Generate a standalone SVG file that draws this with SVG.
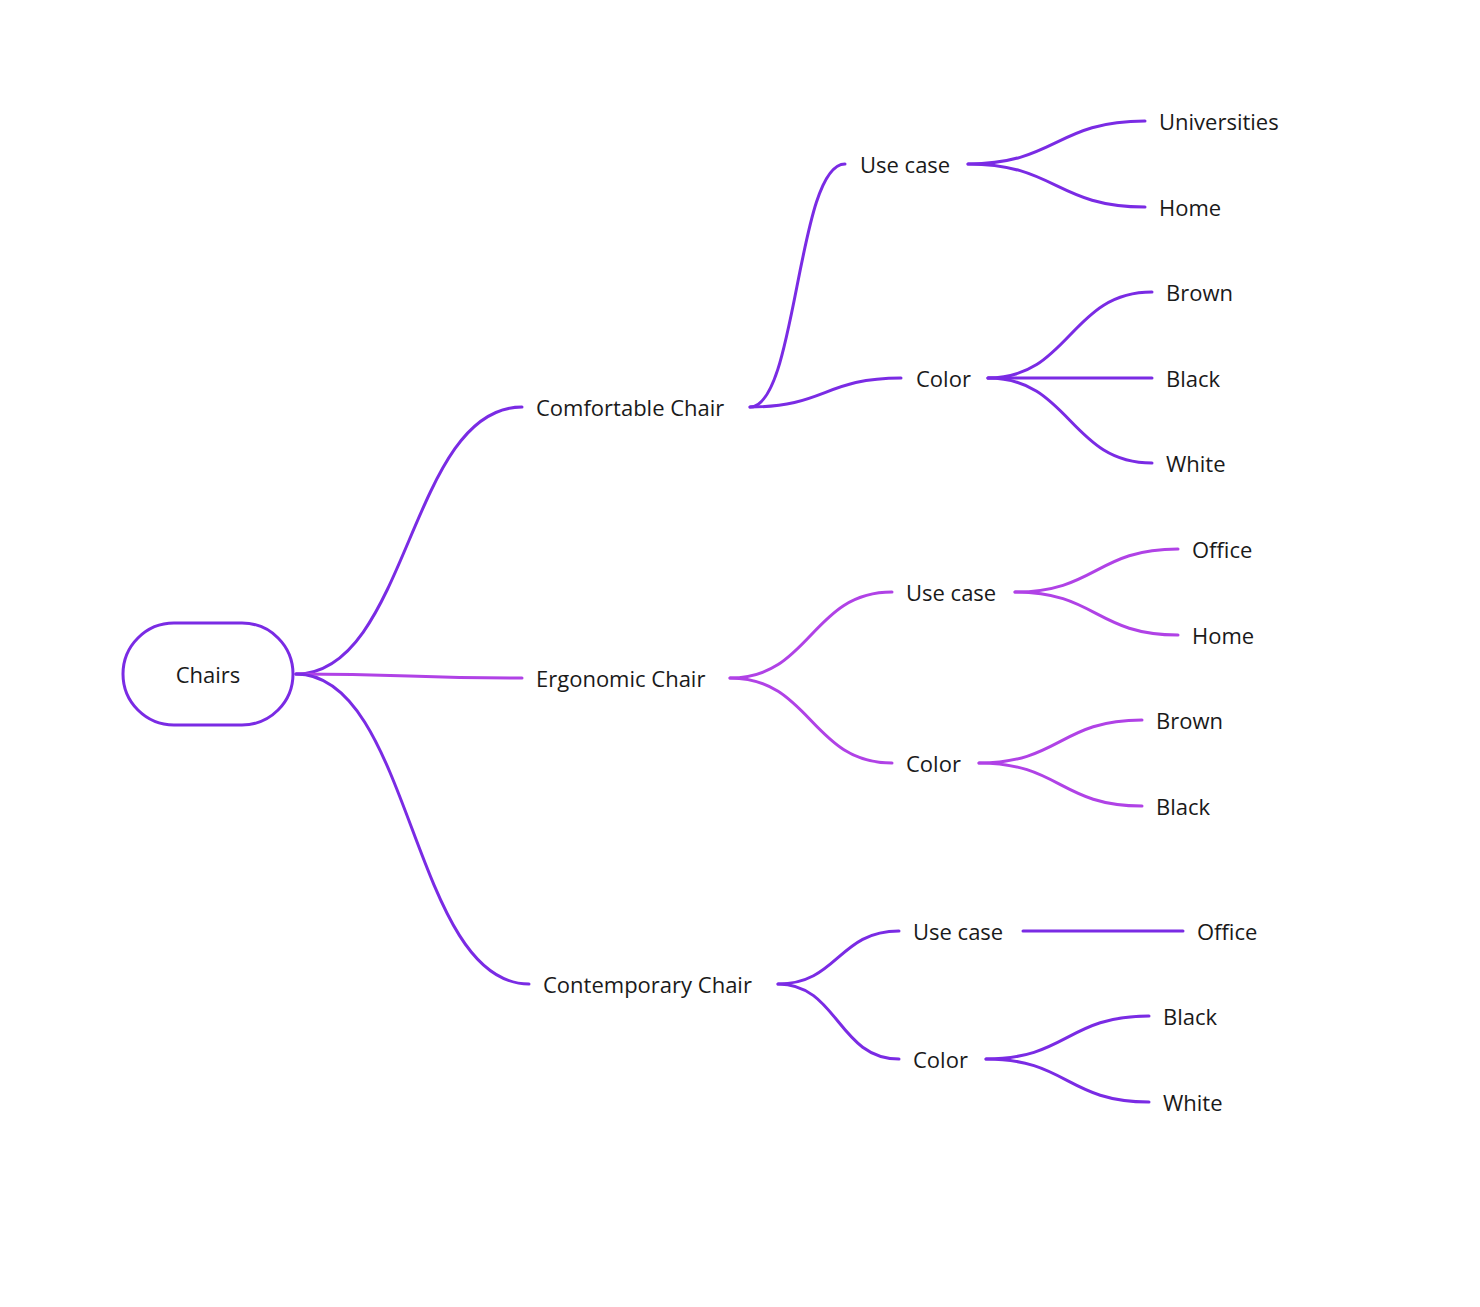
<svg xmlns="http://www.w3.org/2000/svg" width="1480" height="1307" viewBox="0 0 1480 1307">
<style>
text{font-family:"Open Sans","Liberation Sans",sans-serif;font-size:22px;fill:#1a1a1a;dominant-baseline:central}
.c{fill:none;stroke:#7a2be4;stroke-width:3;stroke-linecap:round}
.e{stroke:#b042e6}
</style>
<rect width="1480" height="1307" fill="#fff"/>
<g id="connectors">
<path class="c" d="M296 674C409 674 409 407 522 407"/>
<path class="c e" d="M296 674C409 674 409 678 522 678"/>
<path class="c" d="M296 674C412 674 412 984 529 984"/>
<path class="c" d="M750 407C797 407 797 164 845 164"/>
<path class="c" d="M750 407C825 407 825 378 901 378"/>
<path class="c" d="M968 164C1056 164 1056 121 1145 121"/>
<path class="c" d="M968 164C1056 164 1056 207 1145 207"/>
<path class="c" d="M988 378C1070 378 1070 292 1152 292"/>
<path class="c" d="M988 378L1152 378"/>
<path class="c" d="M988 378C1070 378 1070 463 1152 463"/>
<path class="c e" d="M730 678C811 678 811 592 892 592"/>
<path class="c e" d="M730 678C811 678 811 763 892 763"/>
<path class="c e" d="M1015 592C1096 592 1096 549 1178 549"/>
<path class="c e" d="M1015 592C1096 592 1096 635 1178 635"/>
<path class="c e" d="M979 763C1060 763 1060 720 1142 720"/>
<path class="c e" d="M979 763C1060 763 1060 806 1142 806"/>
<path class="c" d="M778 984C838 984 838 931 899 931"/>
<path class="c" d="M778 984C838 984 838 1059 899 1059"/>
<path class="c" d="M1023 931L1183 931"/>
<path class="c" d="M986 1059C1067 1059 1067 1016 1149 1016"/>
<path class="c" d="M986 1059C1067 1059 1067 1102 1149 1102"/>
</g>
<g id="chairs"><rect x="123" y="623" width="170" height="102" rx="51" fill="#fff" stroke="#7a2be4" stroke-width="3"/><text x="208" y="674" text-anchor="middle">Chairs</text></g>
<g id="comfortable"><text x="536" y="407">Comfortable Chair</text></g>
<g id="ergonomic"><text x="536" y="678">Ergonomic Chair</text></g>
<g id="contemporary"><text x="543" y="984">Contemporary Chair</text></g>
<g id="c-use"><text x="860" y="164">Use case</text></g>
<g id="c-color"><text x="916" y="378">Color</text></g>
<g id="c-univ"><text x="1159" y="121">Universities</text></g>
<g id="c-home"><text x="1159" y="207">Home</text></g>
<g id="c-brown"><text x="1166" y="292">Brown</text></g>
<g id="c-black"><text x="1166" y="378">Black</text></g>
<g id="c-white"><text x="1166" y="463">White</text></g>
<g id="e-use"><text x="906" y="592">Use case</text></g>
<g id="e-color"><text x="906" y="763">Color</text></g>
<g id="e-office"><text x="1192" y="549">Office</text></g>
<g id="e-home"><text x="1192" y="635">Home</text></g>
<g id="e-brown"><text x="1156" y="720">Brown</text></g>
<g id="e-black"><text x="1156" y="806">Black</text></g>
<g id="t-use"><text x="913" y="931">Use case</text></g>
<g id="t-color"><text x="913" y="1059">Color</text></g>
<g id="t-office"><text x="1197" y="931">Office</text></g>
<g id="t-black"><text x="1163" y="1016">Black</text></g>
<g id="t-white"><text x="1163" y="1102">White</text></g>
</svg>
